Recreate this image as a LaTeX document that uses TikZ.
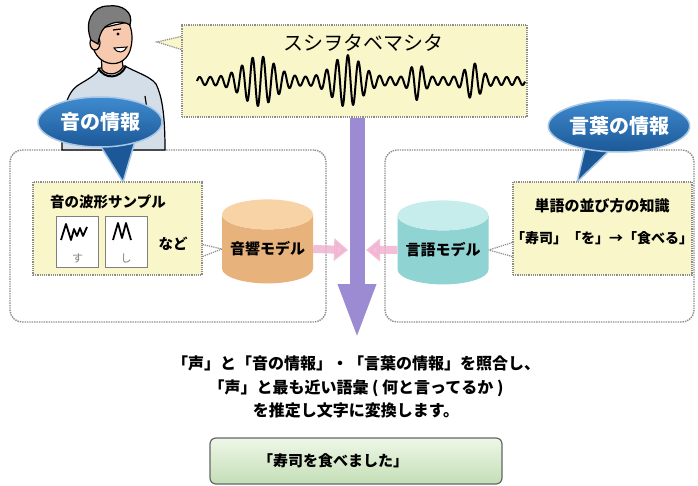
\documentclass[tikz,border=0pt]{standalone}
\usepackage{fontspec}
\setmainfont{Noto Sans CJK JP}
\usetikzlibrary{arrows.meta,shapes.geometric}

\definecolor{notefill}{HTML}{F9F6C9}
\definecolor{dotgray}{HTML}{8C8C8C}
\definecolor{bluebub}{HTML}{1C5897}
\definecolor{bluetop}{HTML}{3F8BCF}
\definecolor{blueedge}{HTML}{A6C6E6}
\definecolor{tanbody}{HTML}{E8B27C}
\definecolor{tantop}{HTML}{F7D3A6}
\definecolor{cyanbody}{HTML}{8FD3D3}
\definecolor{cyantop}{HTML}{C6ECEC}
\definecolor{pinkarr}{HTML}{F1B3D0}
\definecolor{purplearr}{HTML}{9C8BD2}
\definecolor{greentop}{HTML}{EEF7E8}
\definecolor{greenbot}{HTML}{C4DEB6}
\definecolor{shirt}{HTML}{D3DEE8}
\definecolor{skin}{HTML}{F7C9AE}
\definecolor{hair}{HTML}{7E7E7E}

\tikzstyle{note} = [draw=dotgray, densely dotted, line width=1.2pt, fill=notefill, inner sep=0pt]
\tikzstyle{panel} = [draw=dotgray, densely dotted, line width=1.4pt, rounded corners=12pt, inner sep=0pt]
\tikzstyle{bubble} = [ellipse, draw=blueedge, line width=1.5pt, top color=bluetop, bottom color=bluebub, text=white, inner sep=0pt, font=\bfseries\fontsize{20}{20}\selectfont]
\tikzstyle{tail} = [draw=blueedge, line width=1.5pt, fill=bluebub]
\tikzstyle{model} = [cylinder, shape border rotate=90, aspect=0.4, cylinder uses custom fill, minimum width=91pt, minimum height=84pt, inner sep=0pt, font=\bfseries\fontsize{15}{15}\selectfont]
\tikzstyle{sample} = [draw=gray, fill=white, line width=0.8pt, minimum width=42pt, minimum height=51pt, inner sep=0pt]
\tikzstyle{pinkarrow} = [draw=pinkarr, line width=8pt, -{Triangle[length=14pt,width=22pt]}, opacity=0.85]
\tikzstyle{bigarrow} = [draw=purplearr, line width=15pt, -{Triangle[length=56pt,width=34pt]}]
\tikzstyle{dotline} = [draw=dotgray, densely dotted, line width=1.2pt]

\begin{document}
\begin{tikzpicture}[x=1pt, y=-1pt,
  declare function={
    bump(\t,\c,\w)=exp(-min(((\t-\c)/\w)*((\t-\c)/\w),20));
    env(\t)=4+21*bump(\t,62,22)+22*bump(\t,150,19.5)+15*bump(\t,220,8.4)+14*bump(\t,276,10.5);}]
\useasboundingbox (0,0) rectangle (698,486);
\fill[white] (0,0) rectangle (698,486);

% the two dotted panels
\node[panel, minimum width=316pt, minimum height=172pt] (soundpanel) at (168,236) {};
\node[panel, minimum width=309pt, minimum height=172pt] (wordpanel) at (539.5,236) {};

% speaker
\draw[fill=shirt, line width=1.2pt] (62,150) .. controls (62,110) and (66,92) .. (80,84)
  .. controls (90,78) and (97,74) .. (100,68) -- (125,66)
  .. controls (135,72) and (150,76) .. (156,84) .. controls (163,98) and (165,120) .. (165,150) -- cycle;
\draw[fill=skin, line width=1.2pt] (101,52) -- (102,70) .. controls (108,76) and (118,75) .. (123,67) -- (121,52);
\draw[line width=2pt] (98,68) .. controls (105,80) and (120,79) .. (126,66);
\draw[line width=1.2pt] (80,100) -- (82,118);
\draw[line width=1.2pt] (145,96) -- (148,116);
\draw[fill=skin, line width=1.2pt] (93,30) .. controls (89,46) and (96,60) .. (108,63)
  .. controls (120,66) and (129,58) .. (131,47) .. controls (133,38) and (132,28) .. (128,22) -- cycle;
\draw[fill=skin, line width=1.2pt] (95,43) ellipse (5pt and 7pt);
\draw[fill=hair, line width=1.2pt] (91,40) .. controls (84,22) and (92,6) .. (108,6)
  .. controls (122,4) and (134,12) .. (130,25) .. controls (122,20) and (112,22) .. (105,27)
  .. controls (101,31) and (99,37) .. (98,44) -- cycle;
\fill (118,34) circle (1.6pt);
\draw[line width=1.2pt] (113,30) -- (121,29);
\draw[line width=1pt, fill=white] (114,48) .. controls (118,54) and (124,53) .. (127,47) -- cycle;

% speech box with the waveform
\draw[dotline, fill=notefill] (183,36) -- (157,42) -- (183,50);
\node[note, minimum width=345pt, minimum height=92pt] (speech) at (354.5,71) {};
\node[font=\fontsize{20}{20}\selectfont] (kana) at (363,43) {スシヲタベマシタ};
\draw[line width=2pt, line join=round] plot[domain=0:328, samples=900] (\x+197, {81-env(\x)*sin(34*\x)});

% big arrow down the middle
\coordinate (down) at (357,340);
\draw[bigarrow] (speech.south -| down) -- (down);

% sound information
\draw[tail] (98,142) -- (123,182) -- (136,138);
\node[bubble, minimum width=124pt, minimum height=50pt] (soundinfo) at (100,122) {音の情報};
\node[note, minimum width=169pt, minimum height=93pt] (samples) at (117.5,228.5) {};
\node[font=\bfseries\fontsize{14.5}{14.5}\selectfont] (samptitle) at (108,202) {音の波形サンプル};
\node[sample] (su) at (77.5,241.5) {};
\node[sample] (shi) at (126,241.5) {};
\draw[line width=1.8pt, line join=round] (61,240) -- (66,224) -- (71,240) -- (74,229) -- (77,236) -- (80,228) -- (83,236) -- (87,227);
\draw[line width=1.8pt, line join=round] (113,240) -- (118,223) -- (122,238) -- (126,223) -- (131,240);
\node[text=gray, font=\fontsize{11}{11}\selectfont] (sulabel) at (77.5,258) {す};
\node[text=gray, font=\fontsize{11}{11}\selectfont] (shilabel) at (126,258) {し};
\node[font=\bfseries\fontsize{14.5}{14.5}\selectfont] (etc) at (173,244) {など};
\node[model, cylinder body fill=tanbody, cylinder end fill=tantop] (acoustic) at (267.5,249) {音響モデル};
\draw[dotline] ([yshift=-16pt]samples.east) -- (acoustic.west);
\draw[dotline] ([yshift=-28pt]samples.east) -- (acoustic.west);

% word information
\draw[tail] (586,144) -- (577,182) -- (612,148);
\node[bubble, minimum width=132pt, minimum height=52pt] (wordinfo) at (619,126) {言葉の情報};
\node[note, minimum width=179pt, minimum height=93pt] (knowledge) at (602.5,228.5) {};
\node[font=\bfseries\fontsize{15}{15}\selectfont] (knowtitle) at (602,206) {単語の並び方の知識};
\node[font=\bfseries\fontsize{14}{14}\selectfont] (sushi) at (602,238) {「寿司」「を」→「食べる」};
\node[model, cylinder body fill=cyanbody, cylinder end fill=cyantop] (language) at (443,250) {言語モデル};
\draw[dotline] ([yshift=-14pt]knowledge.west) -- (language.east);
\draw[dotline] ([yshift=-28pt]knowledge.west) -- (language.east);

% both models meet at the arrow
\coordinate (lmeet) at (348,250);
\coordinate (rmeet) at (366,250);
\draw[pinkarrow] (acoustic.east) -- (lmeet);
\draw[pinkarrow] (language.west) -- (rmeet);

% result
\node[align=center, font=\bfseries\fontsize{16}{23.5}\selectfont] (explain) at (356,387)
  {「声」と「音の情報」・「言葉の情報」を照合し、\\「声」と最も近い語彙 ( 何と言ってるか )\\を推定し文字に変換します。};
\node[draw=black!60, line width=1.2pt, rounded corners=6pt, top color=greentop, bottom color=greenbot,
  minimum width=292pt, minimum height=46pt] (result) at (356,461) {};
\node[font=\bfseries\fontsize{15}{15}\selectfont] (resulttext) at (333,461) {「寿司を食べました」};
\end{tikzpicture}
\end{document}
